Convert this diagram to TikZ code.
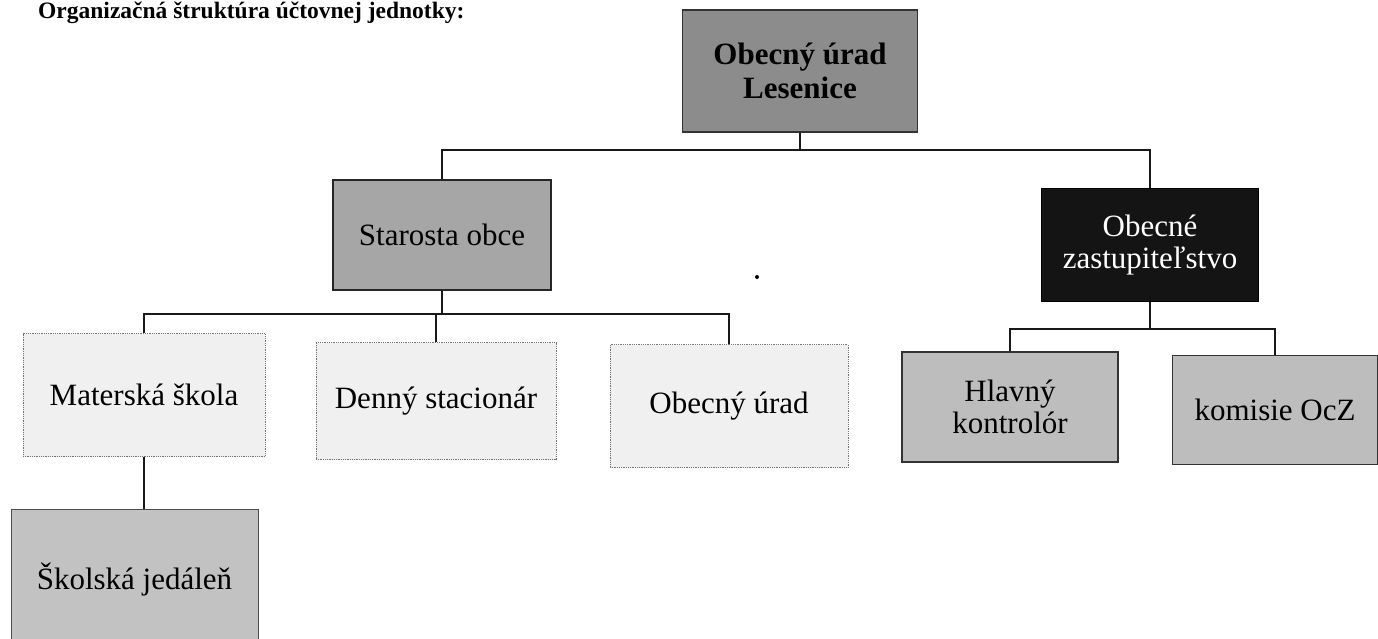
\documentclass[tikz,border=0pt]{standalone}
\usepackage{fontspec}
\setmainfont{Liberation Serif}
\begin{document}
\begin{tikzpicture}[x=1pt,y=-1pt,
  box/.style={draw, rectangle, inner sep=0pt, align=center,
    font=\fontsize{31}{32}\selectfont},
  topbox/.style={box, fill=black!45, draw=black!80, line width=1.2pt,
    font=\fontsize{31}{34}\selectfont\bfseries},
  midbox/.style={box, fill=black!35, draw=black!85, line width=2.5pt},
  darkbox/.style={box, fill=black!92, draw=black, line width=1.5pt, text=white},
  lightbox/.style={box, fill=black!6, draw=black!55, line width=0.8pt, densely dotted},
  greybox/.style={box, fill=black!26, draw=black!80, line width=1.5pt},
  subbox/.style={box, fill=black!24, draw=black!70, line width=1pt},
  conn/.style={line width=2.5pt, draw=black!90}]
\useasboundingbox (0,0) rectangle (1378,638);
\clip (0,0) rectangle (1378,638);

\node[anchor=base west, inner sep=0pt, font=\fontsize{23.5}{24}\selectfont\bfseries] (title) at (38,18)
  {Organizačná štruktúra účtovnej jednotky:};

\node[topbox, minimum width=235, minimum height=122] (top) at (800,71)
  {Obecný úrad\\Lesenice};
\node[midbox, minimum width=218, minimum height=110] (star) at (442,235)
  {Starosta obce};
\node[darkbox, minimum width=217, minimum height=113] (zast) at (1150,245)
  {Obecné\\zastupiteľstvo};

\node[lightbox, minimum width=242, minimum height=123] (ms) at (144,395)
  {Materská škola};
\node[lightbox, minimum width=240, minimum height=117] (ds) at (436,401)
  {Denný stacionár};
\node[lightbox, minimum width=238, minimum height=123] (ou) at (729,406)
  {Obecný úrad};
\node[greybox, minimum width=216, minimum height=110] (hk) at (1010,407)
  {Hlavný\\kontrolór};
\node[greybox, minimum width=205, minimum height=109] (ko) at (1275,410)
  {komisie OcZ};
\node[subbox, minimum width=247, minimum height=141] (sj) at (134.5,579.5)
  {Školská jedáleň};

\coordinate (l1) at (0,150);
\coordinate (l2) at (0,314);
\coordinate (l3) at (0,329);

\draw[conn] (top.south) -- (top.south |- l1) -| (star.north);
\draw[conn] (top.south |- l1) -| (zast.north);
\draw[conn] (star.south) -- (star.south |- l2) -| (ms.north);
\draw[conn] (star.south |- l2) -| (ds.north);
\draw[conn] (star.south |- l2) -| (ou.north);
\draw[conn] (zast.south) -- (zast.south |- l3) -| (hk.north);
\draw[conn] (zast.south |- l3) -| (ko.north);
\draw[conn] (ms.south) -- (ms.south |- sj.north);

\fill[black] (757,277) circle (2);
\end{tikzpicture}
\end{document}
